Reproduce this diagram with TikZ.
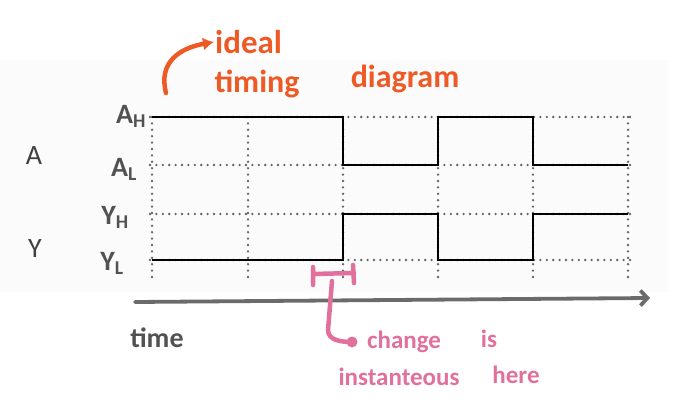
\documentclass[tikz,border=0pt]{standalone}
\usepackage{fontspec}
\setmainfont{Carlito}
\usepackage{xcolor}
\definecolor{orng}{RGB}{238,90,38}
\definecolor{pnk}{RGB}{226,112,156}
\definecolor{gry}{RGB}{100,100,100}
\usetikzlibrary{arrows.meta}

\begin{document}
\begin{tikzpicture}[x=1pt,y=-1pt,line cap=round,
  grid/.style={gry,line width=2.6pt,dash pattern=on 0pt off 6.4pt},
  signal/.style={black,line width=2.8pt,line join=miter,line cap=butt},
  hand/.style={inner sep=1pt,font=\fontsize{25}{25}\selectfont\bfseries},
  level/.style={hand,text=black!68,font=\fontsize{28}{28}\selectfont\bfseries}]

\useasboundingbox (0,0) rectangle (687,414);
\fill[black!1.5] (0,60) rectangle (668,292);

\foreach \x in {152,248,343,438,533,628}
\draw [grid] (\x,117) -- (\x,277);
\foreach \y in {117,165,214,260}
\draw [grid] (150,\y) -- (630,\y);

\draw [signal] (152,117) -| (343,165) -| (438,117) -| (533,165) -- (628,165);
\draw [signal] (152,260) -| (343,214) -| (438,260) -| (533,214) -- (628,214);

\foreach \n/\x/\y/\t in {a/34/156/A, y/35/249/Y}
\node [text=black!75,font=\fontsize{28}{28}\selectfont] (\n) at (\x,\y) {\t};

\foreach \n/\x/\y/\t in {ah/131/116/A\textsubscript{H}, al/124/169/A\textsubscript{L}, yh/115/217/Y\textsubscript{H}, yl/112/263/Y\textsubscript{L}}
\node [level] (\n) at (\x,\y) {\t};

\coordinate (t0) at (135,302);
\coordinate (t1) at (650,298);
\draw [black!58,line width=3.8pt,-{Straight Barb[length=7pt,width=15pt]}] (t0) -- (t1);
\node [level] (time) at (157,338) {time};

\node [hand,text=orng,anchor=west,font=\fontsize{33}{33}\selectfont\bfseries] (ideal) at (214,42) {ideal};
\node [hand,text=orng,font=\fontsize{32}{32}\selectfont\bfseries] (timing) at (257,84) {timing};
\node [hand,text=orng,font=\fontsize{32}{32}\selectfont\bfseries] (diagram) at (405,79) {diagram};
\coordinate (o0) at (166,93);
\draw [orng,line width=4.5pt,-{Latex[length=11pt,width=13pt]}] (o0) .. controls (158,62) and (180,48) .. (ideal.west);

\draw [pnk,line width=4.5pt] (313,267) -- (313,285) (313,274) -- (354,273) (353,265) -- (354,283);
\coordinate (bm) at (332,281);
\node [hand,text=pnk,anchor=west] (change) at (366,342) {change};
\node [hand,text=pnk] (is) at (489,339) {is};
\node [hand,text=pnk] (inst) at (399,377) {instanteous};
\node [hand,text=pnk] (here) at (516,375) {here};
\draw [pnk,line width=4.5pt] (bm) -- (328,330) to[out=-90,in=180] (352,342);
\fill [pnk] (352,342) circle (5.5pt);

\end{tikzpicture}
\end{document}
